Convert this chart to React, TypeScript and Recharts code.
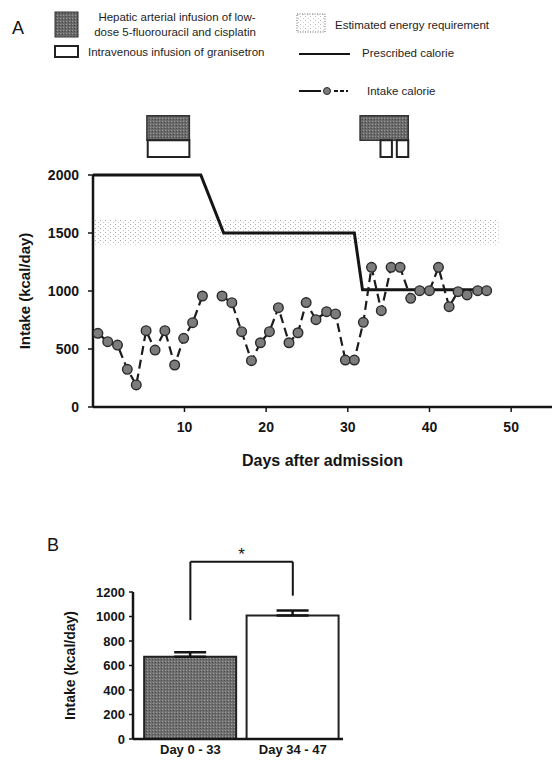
import React from "react"
import {
  Bar,
  BarChart,
  Cell,
  ComposedChart,
  ErrorBar,
  Line,
  ReferenceArea,
  ReferenceLine,
  XAxis,
  YAxis,
} from "recharts"

// ---- panel A data ----
const intakeDays = [
  -0.6, 0.6, 1.8, 3.0, 4.1, 5.3, 6.4, 7.6, 8.8, 9.9, 11.0, 12.2, 13.4, 14.6, 15.8,
  17.0, 18.2, 19.3, 20.4, 21.5, 22.8, 23.9, 24.9, 26.1, 27.4, 28.5, 29.7, 30.8, 31.9,
  32.9, 34.1, 35.3, 36.4, 37.7, 38.8, 40.0, 41.1, 42.4, 43.5, 44.6, 45.9, 47.0,
]
const intakeKcal: (number | null)[] = [
  635, 563, 534, 325, 190, 658, 491, 658, 362, 592, 727, 957, null, 957, 899,
  649, 399, 554, 649, 856, 554, 640, 900, 753, 822, 802, 405, 405, 730,
  1204, 830, 1204, 1204, 937, 1003, 1003, 1204, 865, 994, 966, 1003, 1003,
]
const prescribedDays = [-1.2, 12, 14.8, 30.8, 31.8, 47]
const prescribedKcal = [2000, 2000, 1500, 1500, 1010, 1010]

// estimated energy requirement band
const eerFrom = -1
const eerTo = 48.5
const eerLow = 1400
const eerHigh = 1620

// treatment periods shown above panel A
const hepaticStart = [5.4, 31.5]
const hepaticEnd = [10.6, 37.4]
const granisetronStart = [5.5, 34.0, 36.0]
const granisetronEnd = [10.6, 35.4, 37.4]

const yTicksA = [0, 500, 1000, 1500, 2000]
const xTicksA = [10, 20, 30, 40, 50]

// ---- panel B data ----
const periods = ["Day 0 - 33", "Day 34 - 47"]
const periodMean = [672, 1008]
const periodSem = [36, 40]
const yTicksB = [0, 200, 400, 600, 800, 1000, 1200]

const intakeData = intakeDays.map((d, i) => ({ day: d, kcal: intakeKcal[i] }))
const prescribedData = prescribedDays.map((d, i) => ({ day: d, kcal: prescribedKcal[i] }))
const barData = periods.map((p, i) => ({
  pos: i + 1,
  name: p,
  mean: periodMean[i],
  err: [0, periodSem[i]],
}))

const FONT = "'Liberation Sans', Arial, sans-serif"
const INK = "#151515"

function IntakeDot(p: any) {
  if (p.value == null || p.cy == null) return <g key={p.index} />
  return (
    <circle
      key={p.index}
      cx={p.cx}
      cy={p.cy}
      r={4.8}
      fill="#7c7c7c"
      stroke="#2a2a2a"
      strokeWidth={1.4}
    />
  )
}

function Legend() {
  const t = { fontFamily: FONT, fontSize: 11.5, fill: "#1e1e1e" }
  return (
    <svg width={552} height={100} style={{ position: "absolute", left: 0, top: 0 }}>
      <defs>
        <pattern id="lgGray" width="3" height="3" patternUnits="userSpaceOnUse">
          <rect width="3" height="3" fill="#6a6a6a" />
          <rect x="0" y="0" width="1" height="1" fill="#9a9a9a" />
          <rect x="2" y="1" width="1" height="1" fill="#444" />
        </pattern>
        <pattern id="lgDots" width="5" height="4" patternUnits="userSpaceOnUse">
          <rect x="0" y="0" width="1" height="1" fill="#bbb" />
          <rect x="3" y="2" width="1" height="1" fill="#ccc" />
        </pattern>
      </defs>
      <text x={12} y={34} style={{ fontFamily: FONT, fontSize: 18, fill: INK }}>A</text>
      <rect x={55} y={12} width={23} height={25} fill="url(#lgGray)" stroke="#333" />
      <text x={177} y={21} textAnchor="middle" style={t}>Hepatic arterial infusion of low-</text>
      <text x={175} y={36} textAnchor="middle" style={t}>dose 5-fluorouracil  and cisplatin</text>
      <rect x={55} y={46} width={23} height={11} fill="#fff" stroke="#222" strokeWidth={2} />
      <text x={88} y={56} style={t}>Intravenous infusion of granisetron</text>
      <rect x={297} y={14} width={28} height={18} fill="url(#lgDots)" stroke="#666" strokeDasharray="1 1.5" />
      <text x={335} y={29} style={t}>Estimated energy requirement</text>
      <line x1={299} y1={54} x2={350} y2={54} stroke={INK} strokeWidth={2} />
      <text x={362} y={57} style={t}>Prescribed calorie</text>
      <line x1={299} y1={91} x2={321} y2={91} stroke={INK} strokeWidth={2} />
      <line x1={334} y1={91} x2={348} y2={91} stroke={INK} strokeWidth={2} strokeDasharray="4 2" />
      <circle cx={327} cy={91} r={3.5} fill="#7c7c7c" stroke="#2a2a2a" />
      <text x={367} y={95} style={t}>Intake calorie</text>
    </svg>
  )
}

function PanelA() {
  const tick = { fontFamily: FONT, fontSize: 14, fontWeight: 700, fill: INK }
  return (
    <div style={{ position: "absolute", left: 0, top: 100 }}>
      <ComposedChart
        width={552}
        height={380}
        margin={{ top: 75, right: 0, bottom: 43, left: 3 }}
      >
        <defs>
          <pattern id="eerDots" width="5" height="4" patternUnits="userSpaceOnUse">
            <rect x="0" y="0" width="1" height="1" fill="#a8a8a8" />
            <rect x="3" y="2" width="1" height="1" fill="#c2c2c2" />
          </pattern>
          <pattern id="hepGray" width="3" height="3" patternUnits="userSpaceOnUse">
            <rect width="3" height="3" fill="#6c6c6c" />
            <rect x="0" y="0" width="1" height="1" fill="#9a9a9a" />
            <rect x="2" y="1" width="1" height="1" fill="#474747" />
          </pattern>
        </defs>
        <XAxis
          type="number"
          dataKey="day"
          domain={[-1.2, 55]}
          ticks={xTicksA}
          allowDataOverflow
          height={30}
          tick={tick}
          tickSize={5}
          tickMargin={10}
          stroke={INK}
          axisLine={{ stroke: INK, strokeWidth: 2.5 }}
          tickLine={{ stroke: INK, strokeWidth: 1.5 }}
          label={{
            value: "Days after admission",
            position: "bottom",
            offset: 18,
            style: { fontFamily: FONT, fontSize: 16, fontWeight: 700, fill: INK },
          }}
        />
        <YAxis
          type="number"
          domain={[0, 2000]}
          ticks={yTicksA}
          width={90}
          tick={tick}
          tickSize={5}
          tickMargin={9}
          axisLine={{ stroke: INK, strokeWidth: 2.5 }}
          tickLine={{ stroke: INK, strokeWidth: 1.5 }}
          label={{
            value: "Intake (kcal/day)",
            angle: -90,
            position: "insideLeft",
            offset: 22,
            style: { textAnchor: "middle", fontFamily: FONT, fontSize: 15, fontWeight: 700, fill: INK },
          }}
        />
        <ReferenceArea
          x1={eerFrom}
          x2={eerTo}
          y1={eerLow}
          y2={eerHigh}
          fill="url(#eerDots)"
          fillOpacity={1}
          stroke="none"
        />
        {hepaticStart.map((s, i) => (
          <ReferenceArea
            key={"h" + i}
            x1={s}
            x2={hepaticEnd[i]}
            y1={2300}
            y2={2510}
            ifOverflow="visible"
            fill="url(#hepGray)"
            fillOpacity={1}
            stroke="#333"
            strokeWidth={1.5}
          />
        ))}
        {granisetronStart.map((s, i) => (
          <ReferenceArea
            key={"g" + i}
            x1={s}
            x2={granisetronEnd[i]}
            y1={2155}
            y2={2300}
            ifOverflow="visible"
            fill="#fff"
            fillOpacity={1}
            stroke="#222"
            strokeWidth={2}
          />
        ))}
        <Line
          data={prescribedData}
          dataKey="kcal"
          type="linear"
          stroke={INK}
          strokeWidth={3}
          dot={false}
          isAnimationActive={false}
        />
        <Line
          data={intakeData}
          dataKey="kcal"
          type="linear"
          stroke="#1c1c1c"
          strokeWidth={2.2}
          strokeDasharray="9 5"
          dot={IntakeDot}
          activeDot={false}
          isAnimationActive={false}
        />
      </ComposedChart>
    </div>
  )
}

function PanelB() {
  const tick = { fontFamily: FONT, fontSize: 13, fontWeight: 700, fill: INK }
  return (
    <div style={{ position: "absolute", left: 0, top: 520 }}>
      <BarChart
        width={360}
        height={244}
        data={barData}
        margin={{ top: 72, right: 17, bottom: 5, left: 73 }}
      >
        <defs>
          <pattern id="barGray" width="3" height="3" patternUnits="userSpaceOnUse">
            <rect width="3" height="3" fill="#707070" />
            <rect x="0" y="0" width="1" height="1" fill="#9c9c9c" />
            <rect x="2" y="1" width="1" height="1" fill="#4a4a4a" />
          </pattern>
        </defs>
        <XAxis
          type="number"
          dataKey="pos"
          domain={[0.44, 2.49]}
          ticks={[1, 2]}
          tickFormatter={(v) => periods[Number(v) - 1]}
          height={20}
          tick={tick}
          tickSize={0}
          tickMargin={6}
          tickLine={false}
          axisLine={{ stroke: INK, strokeWidth: 2.5 }}
        />
        <YAxis
          type="number"
          domain={[0, 1200]}
          ticks={yTicksB}
          width={60}
          tick={tick}
          tickSize={4}
          tickMargin={4}
          axisLine={{ stroke: INK, strokeWidth: 2.5 }}
          tickLine={{ stroke: INK, strokeWidth: 1.5 }}
          label={{
            value: "Intake (kcal/day)",
            angle: -90,
            position: "insideLeft",
            offset: -3,
            style: { textAnchor: "middle", fontFamily: FONT, fontSize: 14, fontWeight: 700, fill: INK },
          }}
        />
        <Bar dataKey="mean" barSize={92} stroke="#222" strokeWidth={2} isAnimationActive={false}>
          {barData.map((d, i) => (
            <Cell key={d.name} fill={i === 0 ? "url(#barGray)" : "#fff"} />
          ))}
          <ErrorBar dataKey="err" width={16} stroke={INK} strokeWidth={2.5} />
        </Bar>
        <ReferenceLine
          segment={[{ x: 1, y: 1447 }, { x: 2, y: 1447 }]}
          ifOverflow="visible"
          stroke={INK}
          strokeWidth={2}
          label={{ value: "*", position: "top", offset: 2, style: { fontFamily: FONT, fontSize: 17, fill: INK } }}
        />
        <ReferenceLine
          segment={[{ x: 1, y: 1447 }, { x: 1, y: 970 }]}
          ifOverflow="visible"
          stroke={INK}
          strokeWidth={2}
        />
        <ReferenceLine
          segment={[{ x: 2, y: 1447 }, { x: 2, y: 1170 }]}
          ifOverflow="visible"
          stroke={INK}
          strokeWidth={2}
        />
      </BarChart>
      <div
        style={{
          position: "absolute",
          left: 47,
          top: 16,
          fontFamily: FONT,
          fontSize: 18,
          color: INK,
          lineHeight: 1,
        }}
      >
        B
      </div>
    </div>
  )
}

export default function App() {
  return (
    <div
      style={{
        position: "absolute",
        left: 0,
        top: 0,
        width: 552,
        height: 764,
        background: "#fff",
        overflow: "hidden",
      }}
    >
      <Legend />
      <PanelA />
      <PanelB />
    </div>
  )
}
